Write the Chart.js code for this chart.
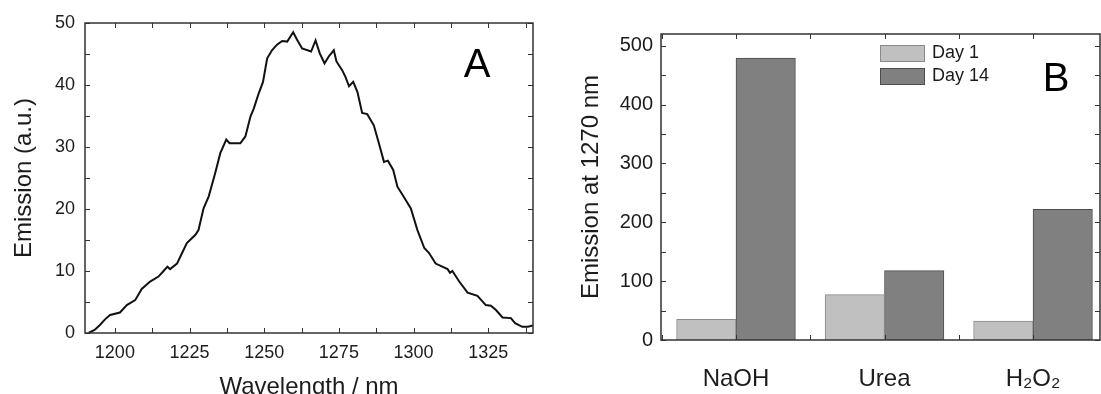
<!doctype html>
<html>

<head>
	<title>Emission spectrum and emission at 1270 nm</title>
	<script src="https://cdn.jsdelivr.net/npm/chart.js@4.4.1/dist/chart.umd.min.js"></script>
	<style>
		html, body {
			margin: 0;
			padding: 0;
			background: #fff;
			overflow: hidden;
			width: 1101px;
			height: 394px;
		}
		.panel {
			position: absolute;
			top: 0;
		}
		#panelA { left: 0; }
		#panelB { left: 560px; }
	</style>
</head>

<body>
	<div class="panel" id="panelA"><canvas id="chartA" width="548" height="394"></canvas></div>
	<div class="panel" id="panelB"><canvas id="chartB" width="560" height="394"></canvas></div>
	<script>
		// Panel A - emission spectrum
		var wavelengths = [
			1191.2, 1193.2, 1195.0, 1196.7, 1198.4, 1201.7, 1204.0, 1206.8, 1209.0, 1211.8,
			1214.6, 1216.3, 1217.6, 1218.5, 1220.8, 1221.9, 1224.1, 1226.9, 1228.0, 1229.7,
			1231.4, 1233.6, 1235.3, 1237.3, 1238.4, 1240.3, 1242.0, 1243.7, 1245.4, 1246.5,
			1248.2, 1249.6, 1251.0, 1252.6, 1254.3, 1256.0, 1257.7, 1259.7, 1261.0, 1262.7,
			1265.7, 1267.2, 1268.6, 1270.2, 1271.6, 1273.3, 1274.2, 1276.1, 1277.2, 1278.4,
			1279.8, 1281.2, 1282.8, 1284.5, 1286.7, 1288.4, 1290.1, 1291.4, 1293.2, 1294.6,
			1296.3, 1299.1, 1301.3, 1303.6, 1305.2, 1307.4, 1311.4, 1312.2, 1313.0, 1315.3,
			1318.1, 1321.4, 1324.2, 1325.9, 1327.6, 1329.8, 1332.6, 1334.0, 1336.4, 1338.3,
			1340.0
		];
		var emission = [
			0.0, 0.5, 1.3, 2.2, 2.9, 3.3, 4.5, 5.3, 7.1, 8.3,
			9.1, 10.0, 10.7, 10.3, 11.2, 12.3, 14.5, 15.8, 16.6, 20.1,
			22.0, 25.8, 29.0, 31.2, 30.6, 30.6, 30.6, 31.7, 34.9, 36.2,
			38.7, 40.5, 44.3, 45.6, 46.5, 47.1, 47.0, 48.5, 47.3, 45.9,
			45.4, 47.2, 45.1, 43.5, 44.6, 45.6, 43.8, 42.4, 41.3, 39.8,
			40.5, 38.9, 35.5, 35.3, 33.5, 30.6, 27.6, 27.8, 26.3, 23.6,
			22.3, 20.1, 16.6, 13.7, 12.9, 11.2, 10.3, 9.7, 10.0, 8.3,
			6.5, 6.0, 4.5, 4.4, 3.7, 2.5, 2.4, 1.6, 1.0, 1.0,
			1.2
		];
		var wavelengthTicks = [1200, 1225, 1250, 1275, 1300, 1325];
		var emissionTicks = [0, 10, 20, 30, 40, 50];

		// Panel B - emission at 1270 nm
		var treatments = ['NaOH', 'Urea', 'H\u2082O\u2082'];
		var day1 = [35, 77, 32];
		var day14 = [479, 118, 222];
		var emission1270Ticks = [0, 100, 200, 300, 400, 500];

		var FONT = "'Liberation Sans', Arial, Helvetica, sans-serif";
		Chart.defaults.font.family = FONT;
		Chart.defaults.color = '#1c1c1c';

		// majors plus the half steps between (and just outside) them
		function withMinor(major, lo, hi) {
			var step = major[1] - major[0];
			var out = [];
			for (var v = major[0] - step; v <= major[major.length - 1] + step + 1e-9; v += step / 2) {
				if (v >= lo - 1e-9 && v <= hi + 1e-9) out.push(v);
			}
			return out;
		}

		function setTicks(values) {
			return function(scale) {
				scale.ticks = values.map(function(v) { return {value: v}; });
			};
		}

		// box around the plot with inward ticks on all four sides, panel letter, legend
		var panelFrame = {
			id: 'panelFrame',
			afterDatasetsDraw: function(chart, args, opts) {
				var ctx = chart.ctx;
				var a = chart.chartArea;
				var len = 5;
				var xs = chart.scales.x, ys = chart.scales.y;
				ctx.save();
				ctx.strokeStyle = '#333';
				ctx.lineWidth = 1;
				ctx.beginPath();
				xs.ticks.forEach(function(t) {
					var px = Math.round(xs.getPixelForValue(t.value)) + 0.5;
					ctx.moveTo(px, a.bottom);
					ctx.lineTo(px, a.bottom - len);
					ctx.moveTo(px, a.top);
					ctx.lineTo(px, a.top + len);
				});
				ys.ticks.forEach(function(t) {
					var py = Math.round(ys.getPixelForValue(t.value)) + 0.5;
					ctx.moveTo(a.left, py);
					ctx.lineTo(a.left + len, py);
					ctx.moveTo(a.right, py);
					ctx.lineTo(a.right - len, py);
				});
				ctx.stroke();
				ctx.lineWidth = 1.5;
				ctx.strokeRect(a.left, a.top, a.right - a.left, a.bottom - a.top);

				ctx.fillStyle = '#000';
				ctx.font = '40px ' + FONT;
				ctx.textAlign = 'center';
				ctx.textBaseline = 'alphabetic';
				ctx.fillText(opts.letter, opts.letterX, opts.letterY);

				if (opts.legend) {
					var lg = opts.legend;
					ctx.font = '18px ' + FONT;
					ctx.textAlign = 'left';
					ctx.textBaseline = 'middle';
					chart.data.datasets.forEach(function(ds, i) {
						var top = lg.y + i * lg.rowHeight;
						ctx.fillStyle = ds.backgroundColor;
						ctx.strokeStyle = ds.borderColor;
						ctx.lineWidth = 1;
						ctx.fillRect(lg.x, top, lg.boxWidth, lg.boxHeight);
						ctx.strokeRect(lg.x + 0.5, top + 0.5, lg.boxWidth - 1, lg.boxHeight - 1);
						ctx.fillStyle = '#1c1c1c';
						ctx.fillText(ds.label, lg.x + lg.boxWidth + 7, top + lg.boxHeight / 2);
					});
				}
				ctx.restore();
			}
		};

		window.onload = function() {
			new Chart(document.getElementById('chartA'), {
				type: 'line',
				data: {
					datasets: [{
						label: 'Emission',
						data: wavelengths.map(function(w, i) { return {x: w, y: emission[i]}; }),
						borderColor: '#111',
						borderWidth: 2,
						pointRadius: 0,
						tension: 0,
						fill: false
					}]
				},
				options: {
					responsive: false,
					animation: false,
					layout: {padding: {top: 23, right: 15, left: 0, bottom: 0}},
					plugins: {
						legend: {display: false},
						tooltip: {enabled: false},
						panelFrame: {letter: 'A', letterX: 477, letterY: 77}
					},
					scales: {
						x: {
							type: 'linear',
							min: 1190,
							max: 1340,
							afterBuildTicks: setTicks(withMinor(wavelengthTicks, 1190, 1340)),
							afterFit: function(s) { s.height = 61; },
							grid: {display: false, drawTicks: false},
							border: {display: false},
							ticks: {
								padding: 9,
								autoSkip: false,
								maxRotation: 0,
								font: {size: 18},
								callback: function(v) { return wavelengthTicks.indexOf(v) >= 0 ? String(v) : ''; }
							},
							title: {
								display: true,
								text: 'Wavelength / nm',
								font: {size: 24},
								padding: {top: 0, bottom: -8}
							}
						},
						y: {
							type: 'linear',
							min: 0,
							max: 50,
							afterBuildTicks: setTicks(withMinor(emissionTicks, 0, 50)),
							afterFit: function(s) { s.width = 85; },
							grid: {display: false, drawTicks: false},
							border: {display: false},
							ticks: {
								padding: 10,
								autoSkip: false,
								font: {size: 18},
								callback: function(v) { return emissionTicks.indexOf(v) >= 0 ? String(v) : ''; }
							},
							title: {
								display: true,
								text: 'Emission (a.u.)',
								font: {size: 24},
								padding: {top: 10, bottom: 0}
							}
						}
					}
				},
				plugins: [panelFrame]
			});

			new Chart(document.getElementById('chartB'), {
				type: 'bar',
				data: {
					datasets: [{
						label: 'Day 1',
						data: day1.map(function(v, i) { return {x: i, y: v}; }),
						backgroundColor: '#c0c0c0',
						borderColor: '#8a8a8a',
						borderWidth: 1
					}, {
						label: 'Day 14',
						data: day14.map(function(v, i) { return {x: i, y: v}; }),
						backgroundColor: '#808080',
						borderColor: '#4d4d4d',
						borderWidth: 1
					}]
				},
				options: {
					responsive: false,
					animation: false,
					datasets: {bar: {barThickness: 'flex', categoryPercentage: 0.8, barPercentage: 1.0}},
					layout: {padding: {top: 34, right: 20, left: 0, bottom: 0}},
					plugins: {
						legend: {display: false},
						tooltip: {enabled: false},
						panelFrame: {
							letter: 'B', letterX: 496, letterY: 91,
							legend: {x: 320, y: 45, boxWidth: 45, boxHeight: 17, rowHeight: 23}
						}
					},
					scales: {
						x: {
							type: 'linear',
							offset: false,
							min: -0.505,
							max: 2.451,
							afterBuildTicks: setTicks(withMinor([0, 1, 2], -0.505, 2.451)),
							afterFit: function(s) { s.height = 54; },
							grid: {display: false, drawTicks: false},
							border: {display: false},
							ticks: {
								padding: 25,
								autoSkip: false,
								maxRotation: 0,
								font: {size: 24},
								callback: function(v) { return Number.isInteger(v) ? treatments[v] : ''; }
							}
						},
						y: {
							type: 'linear',
							min: 0,
							max: 520,
							afterBuildTicks: setTicks(withMinor(emission1270Ticks, 0, 520)),
							afterFit: function(s) { s.width = 101; },
							grid: {display: false, drawTicks: false},
							border: {display: false},
							ticks: {
								padding: 8,
								autoSkip: false,
								font: {size: 20},
								callback: function(v) { return emission1270Ticks.indexOf(v) >= 0 ? String(v) : ''; }
							},
							title: {
								display: true,
								text: 'Emission at 1270 nm',
								font: {size: 24},
								padding: {top: 17, bottom: 0}
							}
						}
					}
				},
				plugins: [panelFrame]
			});
		};
	</script>
</body>

</html>
